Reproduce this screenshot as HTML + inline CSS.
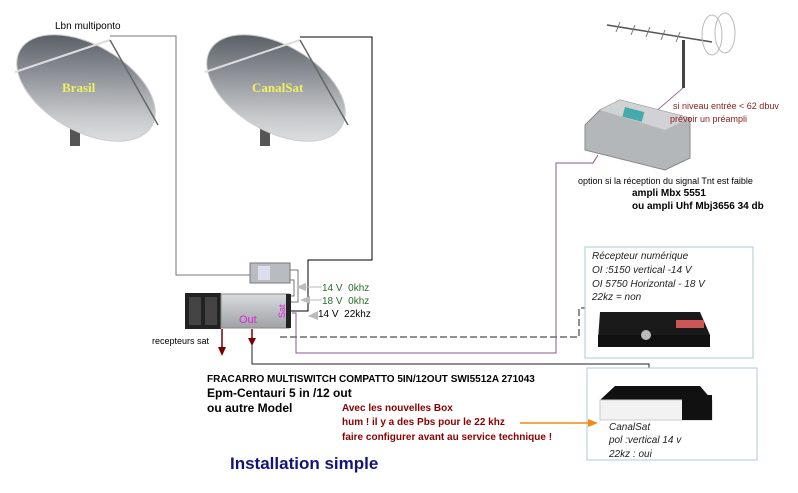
<!DOCTYPE html>
<html><head><meta charset="utf-8"><style>
body{margin:0;background:#fff;}
svg{display:block;font-family:"Liberation Sans",sans-serif;}
</style></head><body>
<svg width="798" height="493" viewBox="0 0 798 493" xmlns="http://www.w3.org/2000/svg">
<defs>
<linearGradient id="dg" x1="0" y1="0" x2="1" y2="1">
<stop offset="0" stop-color="#3e444c"/><stop offset="0.4" stop-color="#8c9096"/><stop offset="0.7" stop-color="#c8cacc"/><stop offset="1" stop-color="#eeeff0"/></linearGradient>
<linearGradient id="bx" x1="0" y1="0" x2="0" y2="1"><stop offset="0" stop-color="#d8dadc"/><stop offset="1" stop-color="#9fa3a6"/></linearGradient>
</defs>
<!-- dishes -->
<g>
<rect x="70" y="118" width="10" height="28" fill="#555"/>
<ellipse cx="86" cy="88" rx="76" ry="43" transform="rotate(30 86 88)" fill="url(#dg)" stroke="#ccc"/>
<line x1="15" y1="72" x2="110" y2="40" stroke="#ddd" stroke-width="2"/>
<line x1="110" y1="40" x2="158" y2="125" stroke="#666" stroke-width="1.5"/>
<text x="62" y="92" font-family="Liberation Serif,serif" font-weight="bold" font-size="13" fill="#f0f060">Brasil</text>
</g>
<g>
<rect x="260" y="118" width="10" height="28" fill="#555"/>
<ellipse cx="276" cy="88" rx="76" ry="43" transform="rotate(30 276 88)" fill="url(#dg)" stroke="#ccc"/>
<line x1="205" y1="72" x2="300" y2="40" stroke="#ddd" stroke-width="2"/>
<line x1="300" y1="40" x2="348" y2="125" stroke="#666" stroke-width="1.5"/>
<text x="252" y="92" font-family="Liberation Serif,serif" font-weight="bold" font-size="13" fill="#f0f060">CanalSat</text>
</g>
<text x="55" y="29" font-size="10" fill="#000">Lbn multiponto</text>
<!-- cables -->
<polyline points="110,36 176,36 176,275 250,275" fill="none" stroke="#777" stroke-width="1"/>
<polyline points="300,37 372,37 372,260 308,260 308,311 290,311" fill="none" stroke="#000" stroke-width="1"/>
<polyline points="288,270 298,270 298,302 290,302" fill="none" stroke="#777"/>
<polyline points="288,280 294,280 294,296 290,296" fill="none" stroke="#777"/>
<!-- splitter -->
<rect x="250" y="263" width="40" height="20" fill="#b8bcc0" stroke="#777"/>
<rect x="258" y="266" width="12" height="14" fill="#dde"/>
<!-- multiswitch -->
<rect x="185" y="293" width="36" height="36" fill="#222"/>
<rect x="189" y="297" width="12" height="28" fill="#444"/><rect x="205" y="297" width="12" height="28" fill="#444"/>
<rect x="221" y="294" width="68" height="34" fill="url(#bx)" stroke="#888"/>
<rect x="286" y="294" width="5" height="34" fill="#222"/>
<text x="239" y="323" font-size="11" fill="#e020e0">Out</text>
<text x="285" y="318" font-size="9" fill="#e020e0" transform="rotate(-90 285 318)">Sat</text>
<text x="152" y="344" font-size="9" fill="#000">recepteurs sat</text>
<!-- arrows down -->
<line x1="222" y1="329" x2="222" y2="348" stroke="#700" stroke-width="1.5"/>
<polygon points="218,347 226,347 222,356" fill="#700"/>
<line x1="252" y1="329" x2="252" y2="339" stroke="#700" stroke-width="1.5"/>
<polygon points="248,338 256,338 252,346" fill="#700"/>
<polyline points="252,345 252,364 649,364 649,381" fill="none" stroke="#222"/>
<polyline points="280,337 579,337 579,308 625,308 625,314" fill="none" stroke="#223" stroke-dasharray="7,3"/>
<polyline points="292,313 296,313 296,353 556,353 556,163 593,163 598,155" fill="none" stroke="#8a5a8a"/>
<!-- voltage labels -->
<g fill="#bbb"><polygon points="296,287 306,283 306,291"/><polygon points="300,300 310,296 310,304"/><polygon points="308,316 318,311 318,320"/></g>
<line x1="305" y1="287" x2="322" y2="287" stroke="#bbb"/><line x1="309" y1="300" x2="322" y2="300" stroke="#bbb"/>
<text x="322" y="291" font-size="10" fill="#2a6a2a">14 V&#160;&#160;0khz</text>
<text x="322" y="304" font-size="10" fill="#2a6a2a">18 V&#160;&#160;0khz</text>
<text x="318" y="317" font-size="10" fill="#000">14 V&#160;&#160;22khz</text>
<!-- antenna -->
<rect x="682" y="40" width="3" height="48" fill="#444"/>
<line x1="607" y1="25" x2="712" y2="42" stroke="#555" stroke-width="1.5"/>
<g stroke="#777" stroke-width="1"><line x1="620" y1="22" x2="616" y2="32"/><line x1="635" y1="25" x2="631" y2="35"/><line x1="650" y1="27" x2="646" y2="37"/><line x1="665" y1="30" x2="661" y2="40"/><line x1="680" y1="32" x2="676" y2="42"/></g>
<ellipse cx="712" cy="35" rx="10" ry="20" fill="none" stroke="#bbb"/><ellipse cx="725" cy="33" rx="10" ry="20" fill="none" stroke="#bbb"/>
<line x1="683" y1="88" x2="640" y2="125" stroke="#a070a0"/>
<!-- amp -->
<polygon points="600,110 620,100 690,118 690,158 665,170 585,150 585,125" fill="#b4b7ba" stroke="#888"/>
<polygon points="600,110 620,100 690,118 665,130" fill="#d0d2d4"/>
<rect x="625" y="107" width="20" height="10" fill="#4aa" transform="rotate(15 625 107)"/>
<text x="673" y="109" font-size="9" fill="#8a1a1a">si niveau entrée &lt; 62 dbuv</text>
<text x="670" y="122" font-size="9" fill="#8a1a1a">prévoir un préampli</text>
<text x="578" y="184" font-size="9" fill="#000">option si la réception du signal Tnt est faible</text>
<text x="632" y="196" font-size="10" font-weight="bold" fill="#000">ampli Mbx 5551</text>
<text x="632" y="209" font-size="10" font-weight="bold" fill="#000">ou ampli Uhf Mbj3656 34 db</text>
<!-- receiver box 1 -->
<rect x="585" y="247" width="168" height="111" fill="#fff" stroke="#a8ccd8"/>
<g font-size="10" font-style="italic" fill="#222">
<text x="592" y="259">Récepteur numérique</text>
<text x="592" y="273">OI :5150 vertical -14 V</text>
<text x="592" y="287">OI 5750 Horizontal - 18 V</text>
<text x="592" y="300">22kz = non</text></g>
<polygon points="600,312 700,312 710,335 598,340" fill="#1a1a1a"/>
<rect x="598" y="335" width="112" height="12" fill="#111"/>
<circle cx="646" cy="335" r="5" fill="#bbb"/>
<rect x="676" y="320" width="28" height="8" fill="#c55"/>
<!-- receiver box 2 -->
<rect x="587" y="368" width="170" height="92" fill="#fff" stroke="#a8ccd8"/>
<polygon points="615,386 700,386 712,400 600,400" fill="#111"/>
<rect x="600" y="400" width="112" height="20" fill="#f2f2f2" stroke="#ccc"/>
<rect x="682" y="395" width="30" height="25" fill="#111"/>
<g font-size="10" font-style="italic" fill="#222">
<text x="609" y="430">CanalSat</text>
<text x="609" y="443">pol :vertical 14 v</text>
<text x="609" y="457">22kz : oui</text></g>
<!-- texts -->
<text x="207" y="382" font-size="10" font-weight="bold" fill="#000">FRACARRO MULTISWITCH COMPATTO 5IN/12OUT SWI5512A 271043</text>
<text x="207" y="397" font-size="12" font-weight="bold" fill="#000">Epm-Centauri 5 in /12 out</text>
<text x="207" y="412" font-size="12" font-weight="bold" fill="#000">ou autre Model</text>
<g font-size="10" font-weight="bold" fill="#8a0000">
<text x="342" y="411">Avec les nouvelles Box</text>
<text x="342" y="425">hum ! il y a des Pbs pour le 22 khz</text>
<text x="342" y="440">faire configurer avant au service technique !</text></g>
<line x1="520" y1="423" x2="590" y2="423" stroke="#f08a10" stroke-width="1.5"/>
<polygon points="588,419 598,423 588,427" fill="#f08a10"/>
<text x="230" y="469" font-size="17" font-weight="bold" fill="#141478">Installation simple</text>
</svg>
</body></html>
